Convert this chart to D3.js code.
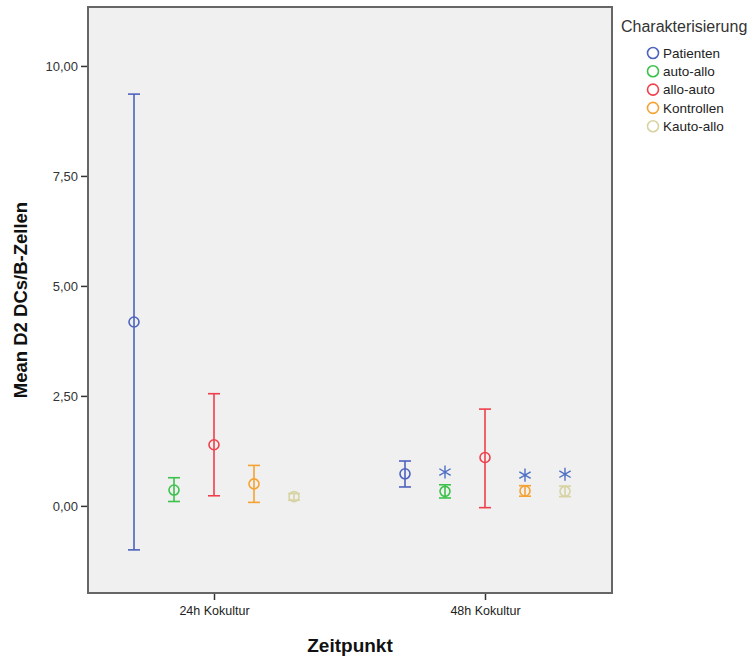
<!DOCTYPE html>
<html>
<head>
<meta charset="utf-8">
<script src="https://cdn.jsdelivr.net/npm/d3@7"></script>
<style>
  html, body { margin: 0; padding: 0; background: #ffffff; }
  svg { display: block; font-family: "Liberation Sans", Arial, sans-serif; }
</style>
</head>
<body>
<svg id="chart" width="755" height="657"></svg>
<script>
// Time points on the x axis
const zeitpunkte = ["24h Kokultur", "48h Kokultur"];
// Groups (legend order)
const gruppen = ["Patienten", "auto-allo", "allo-auto", "Kontrollen", "Kauto-allo"];
const farben = ["#4d63bf", "#3cc24c", "#ef3f4b", "#f5a233", "#d7d3a2"];

// Mean D2 DCs/B-Zellen per group, one entry per time point
const mittel = {
  "Patienten":  [4.18, 0.73],
  "auto-allo":  [0.36, 0.33],
  "allo-auto":  [1.39, 1.10],
  "Kontrollen": [0.50, 0.34],
  "Kauto-allo": [0.21, 0.33]
};
// Lower / upper interval limits
const untere = {
  "Patienten":  [-1.00, 0.43],
  "auto-allo":  [0.10, 0.18],
  "allo-auto":  [0.23, -0.04],
  "Kontrollen": [0.08, 0.22],
  "Kauto-allo": [0.13, 0.21]
};
const obere = {
  "Patienten":  [9.36, 1.02],
  "auto-allo":  [0.64, 0.48],
  "allo-auto":  [2.55, 2.20],
  "Kontrollen": [0.92, 0.46],
  "Kauto-allo": [0.28, 0.45]
};
// Significance markers (asterisks) at 48h
const sternGruppen = ["auto-allo", "Kontrollen", "Kauto-allo"];
const sternWerte = [0.77, 0.70, 0.72];

const yTicks = [0, 2.5, 5, 7.5, 10];
const yDomain = [-1.98, 11.34];

const svg = d3.select("#chart");
const plot = { left: 88, top: 7, right: 612, bottom: 593 };

const x = d3.scalePoint().domain(zeitpunkte).range([214, 485]);
const xg = d3.scalePoint().domain(gruppen).range([-80, 80]);
const y = d3.scaleLinear().domain(yDomain).range([plot.bottom, plot.top]);

// Plot background
svg.append("rect")
  .attr("x", plot.left).attr("y", plot.top)
  .attr("width", plot.right - plot.left).attr("height", plot.bottom - plot.top)
  .attr("fill", "#f0f0f0");

// Axes
const fmt = d => d3.format(".2f")(d).replace(".", ",");
const yAxis = svg.append("g")
  .attr("transform", `translate(${plot.left},0)`)
  .call(d3.axisLeft(y).tickValues(yTicks).tickFormat(fmt).tickSize(7).tickPadding(3));
yAxis.select(".domain").remove();
yAxis.selectAll(".tick line").attr("stroke", "#333").attr("stroke-width", 1.5);
yAxis.selectAll(".tick text").attr("font-size", 13).attr("fill", "#333")
  .attr("font-family", "'Liberation Sans', Arial, sans-serif");

const xAxis = svg.append("g")
  .attr("transform", `translate(0,${plot.bottom})`)
  .call(d3.axisBottom(x).tickSize(7).tickPadding(6));
xAxis.select(".domain").remove();
xAxis.selectAll(".tick line").attr("stroke", "#333").attr("stroke-width", 1.5);
xAxis.selectAll(".tick text").attr("font-size", 12.5).attr("fill", "#222")
  .attr("font-family", "'Liberation Sans', Arial, sans-serif");

// Frame
svg.append("rect")
  .attr("x", plot.left).attr("y", plot.top)
  .attr("width", plot.right - plot.left).attr("height", plot.bottom - plot.top)
  .attr("fill", "none").attr("stroke", "#666").attr("stroke-width", 2);

// Error bars and mean circles
const rows = [];
gruppen.forEach((g, gi) => {
  zeitpunkte.forEach((z, zi) => {
    rows.push({ g, z, color: farben[gi], m: mittel[g][zi], lo: untere[g][zi], hi: obere[g][zi] });
  });
});
const capW = 6;
const marks = svg.append("g").selectAll("g").data(rows).join("g")
  .attr("transform", d => `translate(${x(d.z) + xg(d.g)},0)`)
  .attr("stroke", d => d.color).attr("fill", "none").attr("stroke-width", 1.6);
marks.append("line").attr("x1", 0).attr("x2", 0)
  .attr("y1", d => y(d.lo)).attr("y2", d => y(d.hi));
marks.append("line").attr("x1", -capW).attr("x2", capW)
  .attr("y1", d => y(d.hi)).attr("y2", d => y(d.hi));
marks.append("line").attr("x1", -capW).attr("x2", capW)
  .attr("y1", d => y(d.lo)).attr("y2", d => y(d.lo));
marks.append("circle").attr("cx", 0).attr("cy", d => y(d.m)).attr("r", 5);

// Asterisks
const stern = d3.symbol().type(d3.symbolAsterisk).size(120);
svg.append("g").selectAll("path").data(sternGruppen).join("path")
  .attr("d", stern)
  .attr("transform", (g, i) => `translate(${x(zeitpunkte[1]) + xg(g)},${y(sternWerte[i])})`)
  .attr("fill", "none").attr("stroke", "#4d6fc4").attr("stroke-width", 1.4);

// Axis titles
svg.append("text")
  .attr("x", (plot.left + plot.right) / 2).attr("y", 652)
  .attr("text-anchor", "middle").attr("font-size", 19).attr("font-weight", "bold")
  .attr("fill", "#111").text("Zeitpunkt");
svg.append("text")
  .attr("transform", `translate(27,${(plot.top + plot.bottom) / 2}) rotate(-90)`)
  .attr("text-anchor", "middle").attr("font-size", 18.5).attr("font-weight", "bold")
  .attr("fill", "#111").text("Mean D2 DCs/B-Zellen");

// Legend
const legend = svg.append("g");
legend.append("text").attr("x", 621).attr("y", 32)
  .attr("font-size", 16).attr("fill", "#333").text("Charakterisierung");
const li = legend.selectAll("g").data(gruppen).join("g")
  .attr("transform", (d, i) => `translate(653,${53 + i * 18.3})`);
li.append("circle").attr("r", 5.5).attr("fill", "none")
  .attr("stroke", (d, i) => farben[i]).attr("stroke-width", 1.6);
li.append("text").attr("x", 10).attr("y", 4.8).attr("font-size", 13.5)
  .attr("fill", "#222").text(d => d);
</script>
</body>
</html>
